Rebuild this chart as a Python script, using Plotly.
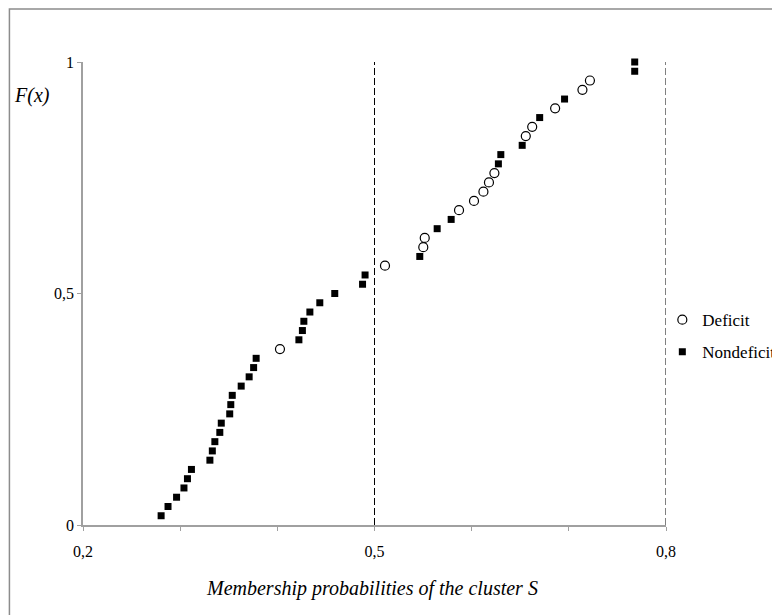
import plotly.graph_objects as go

# Data (cumulative distribution positions)
deficit_x = [0.4027, 0.5108, 0.5502, 0.5517, 0.5870, 0.6024, 0.6121, 0.6178,
             0.6234, 0.6557, 0.6623, 0.6859, 0.7140, 0.7217]
deficit_y = [0.38, 0.56, 0.60, 0.62, 0.68, 0.70, 0.72, 0.74,
             0.76, 0.84, 0.86, 0.90, 0.94, 0.96]

nondeficit_x = [0.2804, 0.2875, 0.2963, 0.3039, 0.3075, 0.3116, 0.3306, 0.3331,
                0.3357, 0.3408, 0.3423, 0.3510, 0.3521, 0.3536, 0.3628, 0.3710,
                0.3756, 0.3782, 0.4222, 0.4258, 0.4273, 0.4335, 0.4437, 0.4591,
                0.4877, 0.4903, 0.5466, 0.5645, 0.5789, 0.6275, 0.6300, 0.6520,
                0.6700, 0.6956, 0.7678, 0.7678]
nondeficit_y = [0.02, 0.04, 0.06, 0.08, 0.10, 0.12, 0.14, 0.16,
                0.18, 0.20, 0.22, 0.24, 0.26, 0.28, 0.30, 0.32,
                0.34, 0.36, 0.40, 0.42, 0.44, 0.46, 0.48, 0.50,
                0.52, 0.54, 0.58, 0.64, 0.66, 0.78, 0.80, 0.82,
                0.88, 0.92, 0.98, 1.00]

x_tickvals = [0.2, 0.3, 0.4, 0.5, 0.6, 0.7, 0.8]
x_ticktext = ["0,2", "", "", "0,5", "", "", "0,8"]
y_tickvals = [0, 0.5, 1]
y_ticktext = ["0", "0,5", "1"]
threshold_lines = [0.5, 0.8]

FONT = "Liberation Serif"
GRAY = "#a0a0a0"

fig = go.Figure()
fig.add_trace(go.Scatter(
    x=deficit_x, y=deficit_y, mode="markers", name="Deficit",
    legendgroup="d", cliponaxis=False,
    marker=dict(symbol="circle", size=9, color="white",
                line=dict(color="black", width=1.2)),
))
fig.add_trace(go.Scatter(
    x=nondeficit_x, y=nondeficit_y, mode="markers", name="Nondeficit",
    legendgroup="n", cliponaxis=False,
    marker=dict(symbol="square", size=7, color="black",
                line=dict(color="black", width=0)),
))

for xv in threshold_lines:
    fig.add_shape(type="line", xref="x", yref="y", x0=xv, x1=xv, y0=0, y1=1,
                  line=dict(color="black", width=1, dash="7px,3px"))

# outer chart frame
fig.add_shape(type="rect", xref="paper", yref="paper",
              x0=-0.1262, x1=1.227, y0=-0.234, y1=1.1146,
              line=dict(color="#8c8c8c", width=1.5), layer="below")

fig.add_annotation(text="<i>F(x)</i>", xref="paper", yref="paper",
                   x=-0.0875, y=0.927, xanchor="center", yanchor="middle",
                   showarrow=False,
                   font=dict(family=FONT, size=20, color="black"))
fig.add_annotation(text="<i>Membership probabilities of the cluster S</i>",
                   xref="paper", yref="paper", x=0.4963, y=-0.1368,
                   xanchor="center", yanchor="middle", showarrow=False,
                   font=dict(family=FONT, size=20, color="black"))

fig.update_layout(
    width=780, height=615,
    margin=dict(l=74.6, r=122.3, t=54, b=98.3, autoexpand=False),
    paper_bgcolor="white", plot_bgcolor="white",
    font=dict(family=FONT, size=16, color="black"),
    showlegend=True,
    legend=dict(x=0.9937, y=0.4813, xanchor="left", yanchor="top",
                font=dict(family=FONT, size=17, color="black"),
                bgcolor="rgba(0,0,0,0)", tracegroupgap=7),
    xaxis=dict(range=[0.2, 0.8], tickvals=x_tickvals, ticktext=x_ticktext,
               showgrid=False, zeroline=False, showline=True,
               linecolor=GRAY, linewidth=1.5, ticks="outside", ticklen=4,
               tickcolor=GRAY, tickwidth=1, ticklabelstandoff=7,
               tickfont=dict(family=FONT, size=16, color="black")),
    yaxis=dict(range=[0, 1], tickvals=y_tickvals, ticktext=y_ticktext,
               showgrid=False, zeroline=False, showline=True,
               linecolor=GRAY, linewidth=1.5, ticks="outside", ticklen=4,
               tickcolor=GRAY, tickwidth=1, ticklabelstandoff=0,
               tickfont=dict(family=FONT, size=16, color="black")),
)

fig.write_html("out.html")
